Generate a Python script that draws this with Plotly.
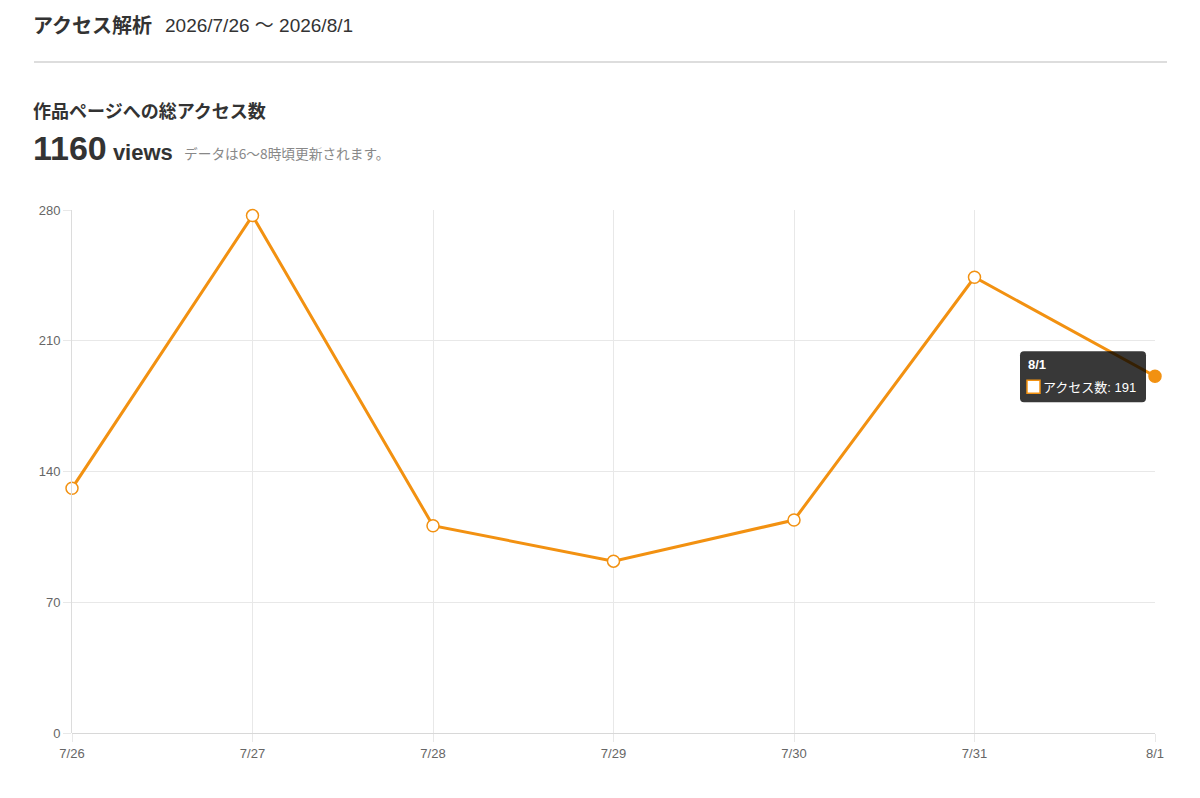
import plotly.graph_objects as go

# data
dates = ["7/26", "7/27", "7/28", "7/29", "7/30", "7/31", "8/1"]
views = [131, 277, 111, 92, 114, 244, 191]
y_ticks = [0, 70, 140, 210, 280]

title_text = "アクセス解析"
period_text = "2026/7/26 〜 2026/8/1"
sub_title = "作品ページへの総アクセス数"
total_text = "1160"
note_text = "データは6〜8時頃更新されます。"
series_name = "アクセス数"

ORANGE = "#f29111"
GRID = "#e8e8e8"
JP = "Noto Sans CJK JP, sans-serif"
LAT = "Liberation Sans, Arial, Noto Sans CJK JP, sans-serif"

marker_fill = ["#ffffff"] * (len(views) - 1) + [ORANGE]

fig = go.Figure()
fig.add_trace(go.Scatter(
    x=dates, y=views, mode="lines+markers", name=series_name,
    line=dict(color=ORANGE, width=3),
    marker=dict(size=12, color=marker_fill, line=dict(color=ORANGE, width=1.5)),
    cliponaxis=False, hoverinfo="skip",
))

fig.update_xaxes(
    type="category", range=[0, len(dates) - 1],
    showgrid=True, gridcolor=GRID, gridwidth=1,
    ticks="outside", ticklen=8, tickcolor=GRID,
    showline=False, zeroline=False,
    tickfont=dict(family=LAT, size=13, color="#666"),
)
fig.update_yaxes(
    range=[0, 280], tickvals=y_ticks,
    showgrid=True, gridcolor=GRID, gridwidth=1,
    ticks="outside", ticklen=8, tickcolor=GRID,
    showline=True, linecolor="#dcdcdc", linewidth=1,
    zeroline=True, zerolinecolor="#d8d8d8", zerolinewidth=1,
    tickfont=dict(family=LAT, size=13, color="#666"),
)

# tooltip for the last point
last_x, last_y = dates[-1], views[-1]
box = ("M -131,-26 L -13,-26 Q -9,-26 -9,-22 L -9,21 Q -9,25 -13,25 "
       "L -131,25 Q -135,25 -135,21 L -135,-22 Q -135,-26 -131,-26 Z")
fig.add_shape(type="path", xref="x", yref="y", xsizemode="pixel", ysizemode="pixel",
              xanchor=last_x, yanchor=last_y, path=box,
              fillcolor="rgba(0,0,0,0.78)", line=dict(width=0), layer="above")
fig.add_shape(type="rect", xref="x", yref="y", xsizemode="pixel", ysizemode="pixel",
              xanchor=last_x, yanchor=last_y, x0=-128, x1=-115, y0=-4, y1=-17,
              fillcolor="#ffffff", line=dict(color=ORANGE, width=1.5), layer="above")
fig.add_annotation(x=last_x, y=last_y, xref="x", yref="y", showarrow=False,
                   xanchor="left", yanchor="middle", xshift=-129, yshift=12,
                   text="<b>" + last_x + "</b>",
                   font=dict(family=LAT, size=13, color="#ffffff"))
fig.add_annotation(x=last_x, y=last_y, xref="x", yref="y", showarrow=False,
                   xanchor="left", yanchor="middle", xshift=-114, yshift=-11,
                   text=series_name + ": " + str(last_y),
                   font=dict(family=LAT, size=13, color="#ffffff"))

# page header
fig.add_annotation(xref="paper", yref="paper", x=-0.0375, y=1.3556, xanchor="left",
                   yanchor="middle", showarrow=False,
                   text="<b>" + title_text + "</b>",
                   font=dict(family=JP, size=20, color="#333"))
fig.add_annotation(xref="paper", yref="paper", x=0.0840, y=1.3536, xanchor="left",
                   yanchor="middle", showarrow=False, text=period_text,
                   font=dict(family=LAT, size=19, color="#333"))
fig.add_shape(type="line", xref="paper", yref="paper", x0=-0.0351, x1=1.0111,
              y0=1.283, y1=1.283, line=dict(color="#dddddd", width=2))
fig.add_annotation(xref="paper", yref="paper", x=-0.038, y=1.1912, xanchor="left",
                   yanchor="middle", showarrow=False,
                   text="<b>" + sub_title + "</b>",
                   font=dict(family=JP, size=18, color="#333"))
fig.add_annotation(xref="paper", yref="paper", x=-0.0375, y=1.1185, xanchor="left",
                   yanchor="middle", showarrow=False,
                   text="<b><span style='font-size:34px'>" + total_text + "</span>"
                        " views</b>",
                   font=dict(family=LAT, size=22, color="#333"))
fig.add_annotation(xref="paper", yref="paper", x=0.1016, y=1.109, xanchor="left",
                   yanchor="middle", showarrow=False, text=note_text,
                   font=dict(family=JP, size=13.7, color="#888"))

fig.update_layout(
    width=1192, height=790,
    margin=dict(l=64, r=45, t=202, b=65),
    paper_bgcolor="#ffffff", plot_bgcolor="#ffffff",
    showlegend=False,
    font=dict(family=LAT),
)

fig.write_html("out.html")
